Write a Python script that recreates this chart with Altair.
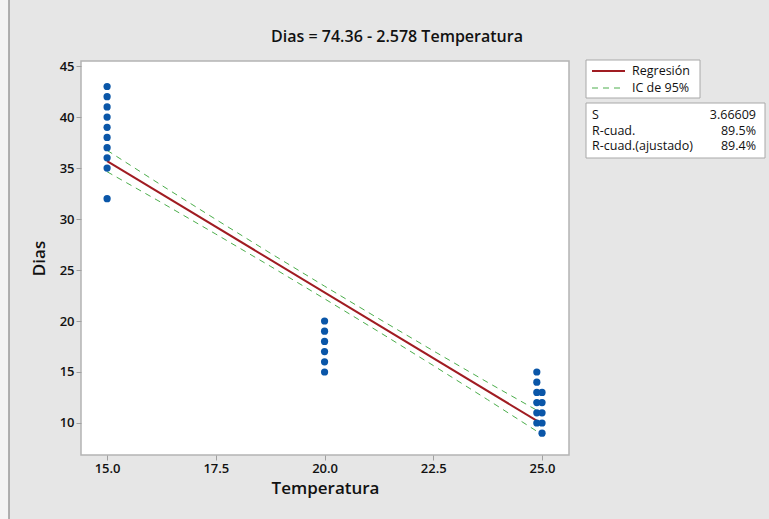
import altair as alt
import pandas as pd

# Observations: temperature and days
temp_15 = [15.0] * 10
dias_15 = [43, 42, 41, 40, 39, 38, 37, 36, 35, 32]
temp_20 = [20.0] * 6
dias_20 = [20, 19, 18, 17, 16, 15]
temp_25 = [24.88, 24.88, 24.88, 25.0, 24.88, 25.0, 24.88, 25.0, 24.88, 25.0, 25.0]
dias_25 = [15, 14, 13, 13, 12, 12, 11, 11, 10, 10, 9]

# Fitted model
intercept = 74.36
slope = -2.578

# 95% confidence band half-widths along the temperature range
ci_temp = [15.0, 16.25, 17.5, 18.75, 20.0, 21.25, 22.5, 23.75, 25.0]
ci_half = [1.05, 0.85, 0.72, 0.64, 0.62, 0.64, 0.72, 0.85, 1.05]

# Summary statistics
stat_labels = ["S", "R-cuad.", "R-cuad.(ajustado)"]
stat_values = ["3.66609", "89.5%", "89.4%"]

FONT = "Open Sans"
BLUE = "#0a56a8"
RED = "#a01c22"
GREEN = "#4cae4c"

points = pd.DataFrame({
    "Temperatura": temp_15 + temp_20 + temp_25,
    "Dias": dias_15 + dias_20 + dias_25,
})
fit = pd.DataFrame({
    "Temperatura": [15.0, 25.0],
    "Dias": [intercept + slope * 15.0, intercept + slope * 25.0],
})
band = pd.DataFrame({
    "Temperatura": ci_temp,
    "upper": [intercept + slope * t + h for t, h in zip(ci_temp, ci_half)],
    "lower": [intercept + slope * t - h for t, h in zip(ci_temp, ci_half)],
})

xscale = alt.Scale(domain=[14.40, 25.62], nice=False, zero=False)
yscale = alt.Scale(domain=[6.86, 45.5], nice=False, zero=False)

xaxis = alt.Axis(values=[15.0, 17.5, 20.0, 22.5, 25.0], format=".1f",
                 title="Temperatura", titleFontSize=17, titleFontWeight=600,
                 titlePadding=5)
yaxis = alt.Axis(values=[10, 15, 20, 25, 30, 35, 40, 45], format="d",
                 title="Dias", titleFontSize=17, titleFontWeight=600,
                 titlePadding=11)

x = alt.X("Temperatura:Q", scale=xscale, axis=xaxis)
y = alt.Y("Dias:Q", scale=yscale, axis=yaxis)

scatter = alt.Chart(points).mark_circle(size=52, color=BLUE, opacity=1).encode(x=x, y=y)
fit_line = alt.Chart(fit).mark_line(color=RED, strokeWidth=2).encode(x=x, y=y)
upper = alt.Chart(band).mark_line(color=GREEN, strokeWidth=1, strokeDash=[6, 5]).encode(
    x=x, y=alt.Y("upper:Q", scale=yscale, axis=yaxis))
lower = alt.Chart(band).mark_line(color=GREEN, strokeWidth=1, strokeDash=[6, 5]).encode(
    x=x, y=alt.Y("lower:Q", scale=yscale, axis=yaxis))

one = alt.Data(values=[{}])


def text_at(txt, px, py, align="left", size=12.5, weight=400):
    return alt.Chart(one).mark_text(
        text=txt, font=FONT, fontSize=size, fontWeight=weight, color="#111111",
        align=align, baseline="middle"
    ).encode(x=alt.value(px), y=alt.value(py))


# window edge on the left
edge_fill = alt.Chart(one).mark_rect(fill="#f4f4f4").encode(
    x=alt.value(-81), x2=alt.value(-72), y=alt.value(-61), y2=alt.value(458))
edge_line = alt.Chart(one).mark_rule(color="#9a9a9a", strokeWidth=1.5).encode(
    x=alt.value(-72), y=alt.value(-61), y2=alt.value(458))

title = text_at("Dias = 74.36 - 2.578 Temperatura", 316, -24, align="center",
                size=16, weight=600)

# legend box
legend_box = alt.Chart(one).mark_rect(fill="white", stroke="#a8a8a8", strokeWidth=1).encode(
    x=alt.value(505), x2=alt.value(619), y=alt.value(-1), y2=alt.value(37))
legend_red = alt.Chart(one).mark_rule(color=RED, strokeWidth=2).encode(
    x=alt.value(511), x2=alt.value(544), y=alt.value(10))
legend_green = alt.Chart(one).mark_rule(color=GREEN, strokeWidth=1, strokeDash=[6, 5]).encode(
    x=alt.value(511), x2=alt.value(544), y=alt.value(27))
legend_t1 = text_at("Regresión", 551, 10)
legend_t2 = text_at("IC de 95%", 551, 27)

# statistics box
stats_box = alt.Chart(one).mark_rect(fill="white", stroke="#a8a8a8", strokeWidth=1).encode(
    x=alt.value(505), x2=alt.value(684), y=alt.value(42), y2=alt.value(97))
stats_rows = []
for i, (lab, val) in enumerate(zip(stat_labels, stat_values)):
    row_y = 54 + i * 15.5
    stats_rows.append(text_at(lab, 511, row_y))
    stats_rows.append(text_at(val, 675, row_y, align="right"))

chart = alt.layer(
    edge_fill, edge_line, upper, lower, fit_line, scatter, title,
    legend_box, legend_red, legend_green, legend_t1, legend_t2,
    stats_box, *stats_rows,
).properties(
    width=488, height=394,
    autosize=alt.AutoSizeParams(type="none"),
    padding={"left": 81, "top": 61, "right": 200, "bottom": 64},
    background="#e6e6e6",
).configure_view(
    fill="white", stroke="#b4b4b4", strokeWidth=1.5
).configure_axis(
    grid=False, domain=False, tickColor="#a0a0a0", tickSize=5,
    labelFont=FONT, labelFontSize=13, labelFontWeight=600, labelColor="#111111",
    labelPadding=2, titleFont=FONT, titleColor="#111111",
)

chart.save("out.html", embed_options={"renderer": "svg", "actions": False})
